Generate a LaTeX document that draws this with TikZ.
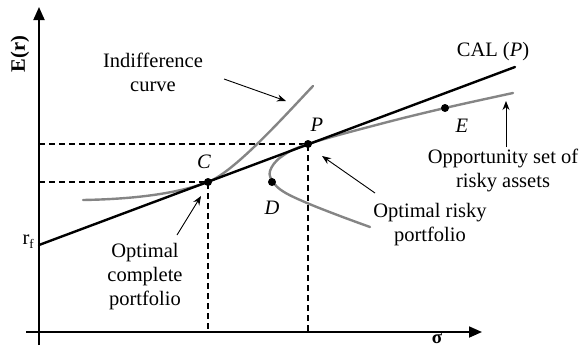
\documentclass[tikz,border=0pt]{standalone}
\usepackage{fontspec}
\setmainfont{Liberation Serif}
\usetikzlibrary{arrows.meta}
\begin{document}
\begin{tikzpicture}[x=1pt,y=-1pt,
  axis/.style={line width=1.8pt,-{Triangle[length=13pt,width=11pt]}},
  calline/.style={line width=2.4pt,line cap=round},
  gcurve/.style={line width=2.4pt,draw=black!48,line cap=round},
  guide/.style={line width=1.4pt,dash pattern=on 6pt off 4pt},
  note/.style={line width=0.9pt,-{Stealth[length=9pt,width=7pt]}},
  lbl/.style={font=\fontsize{20.5}{24}\selectfont,align=center,inner sep=0pt},
  dot/.style={circle,fill=black,inner sep=0pt,minimum size=8pt}]
\useasboundingbox (0,0) rectangle (583,348);

% axes
\coordinate (yb) at (39,345);
\coordinate (yt) at (39,7);
\coordinate (xl) at (26,332);
\coordinate (xr) at (482,332);
\draw[axis] (yb) -- (yt);
\draw[axis] (xl) -- (xr);
\node[lbl,rotate=90,font=\fontsize{20.5}{24}\selectfont\bfseries] (Er) at (20,54) {E(r)};
\node[inner sep=0pt,font=\fontsize{19}{20}\selectfont\bfseries,anchor=base] (sig) at (437,343) {σ};
\node[lbl,anchor=east] (rf) at (34,242) {r\raisebox{-0.45ex}{\fontsize{13}{14}\selectfont f}};

% points
\coordinate (rfp) at (39,245);
\coordinate (calend) at (515,67);
\coordinate (Cp) at (208,182);
\coordinate (Pp) at (308,144);
\coordinate (Dp) at (272,182);
\coordinate (Ep) at (445,108);

% guides
\coordinate (Cy) at (39,182);
\coordinate (Cx) at (208,332);
\coordinate (Py) at (39,144);
\coordinate (Px) at (308,332);
\draw[guide] (Cy) -- (Cp) -- (Cx);
\draw[guide] (Py) -- (Pp) -- (Px);

% indifference curve
\coordinate (ic0) at (83,200);
\coordinate (ic1) at (313,86);
\draw[gcurve] (ic0) .. controls (140,199) and (180,192.5) .. (Cp)
                    .. controls (235,172) and (290,110) .. (ic1);
% opportunity set
\draw[gcurve] plot[smooth,tension=0.6] coordinates {(513,93) (445,108) (380,124) (308,144) (281,157) (270,171) (273,182) (284,192) (307,203) (340,216) (370,227)};
% CAL
\draw[calline] (rfp) -- (calend);

% dots
\node[dot] (C) at (Cp) {};
\node[dot] (P) at (Pp) {};
\node[dot] (D) at (Dp) {};
\node[dot] (E) at (Ep) {};
\node[lbl,font=\fontsize{20.5}{24}\selectfont\itshape] (Cl) at (204,162) {C};
\node[lbl,font=\fontsize{20.5}{24}\selectfont\itshape] (Pl) at (317,125) {P};
\node[lbl,font=\fontsize{20.5}{24}\selectfont\itshape] (Dl) at (272,208) {D};
\node[lbl,font=\fontsize{20.5}{24}\selectfont\itshape] (El) at (462,126) {E};
\node[lbl] (cal) at (493,52) {CAL (\textit{P})};

% annotations
\node[lbl] (ind) at (153,72) {Indifference\\curve};
\coordinate (ind1) at (224,79);
\coordinate (ind2) at (286,101);
\draw[note] (ind1) -- (ind2);

\node[lbl] (ocp) at (145,277) {Optimal\\complete\\portfolio};
\coordinate (ocp1) at (177,235);
\coordinate (ocp2) at (201,196);
\draw[note] (ocp1) -- (ocp2);

\node[lbl] (orp) at (430,225) {Optimal risky\\portfolio};
\coordinate (orp1) at (375,193);
\coordinate (orp2) at (322,156);
\draw[note] (orp1) -- (orp2);

\node[lbl] (opp) at (503,170) {Opportunity set of\\risky assets};
\coordinate (opp1) at (506,147);
\coordinate (opp2) at (506,101);
\draw[note] (opp1) -- (opp2);
\end{tikzpicture}
\end{document}
